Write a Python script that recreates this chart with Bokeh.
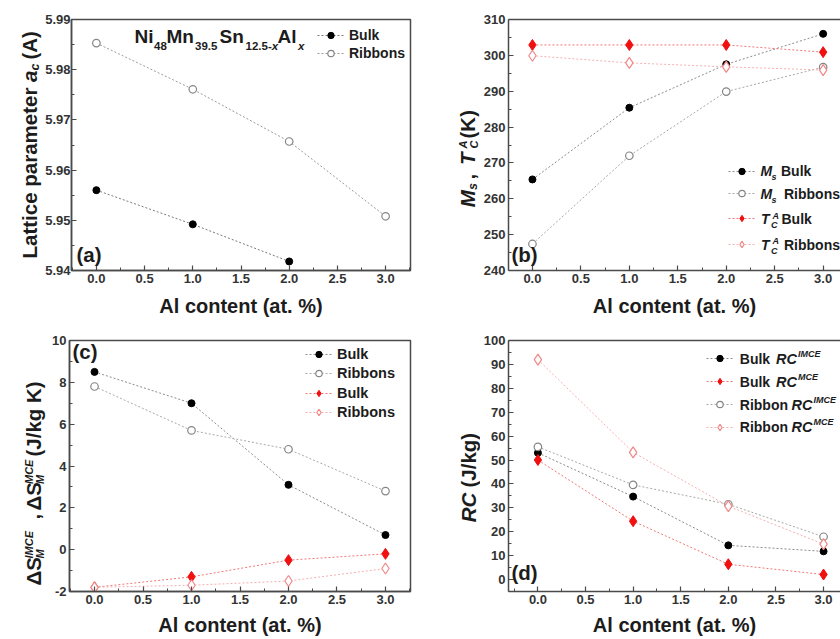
import math
from bokeh.plotting import figure
from bokeh.models import (FixedTicker, NumeralTickFormatter, Label, Legend,
                          LegendItem, LinearAxis, Range1d)
from bokeh.layouts import column, row
from bokeh.embed import file_html
from bokeh.resources import INLINE

# ---------------- data ----------------
al_content = [0.0, 1.0, 2.0, 3.0]
al_content_bulk_a = [0.0, 1.0, 2.0]

lattice_bulk = [5.9560, 5.9492, 5.9418]
lattice_ribbons = [5.9853, 5.9761, 5.9657, 5.9508]

ms_bulk = [265.4, 285.4, 297.5, 306.0]
ms_ribbons = [247.4, 272.0, 289.9, 296.7]
tc_bulk = [302.9, 302.9, 302.9, 300.9]
tc_ribbons = [299.9, 297.9, 296.8, 295.9]

ds_imce_bulk = [8.5, 7.0, 3.1, 0.7]
ds_imce_ribbons = [7.8, 5.7, 4.8, 2.8]
ds_mce_bulk = [-1.8, -1.3, -0.5, -0.2]
ds_mce_ribbons = [-1.8, -1.7, -1.5, -0.9]

rc_imce_bulk = [53.0, 34.7, 14.3, 11.8]
rc_mce_bulk = [50.0, 24.4, 6.4, 2.1]
rc_imce_ribbon = [55.5, 39.6, 31.5, 17.9]
rc_mce_ribbon = [92.0, 53.2, 30.7, 14.8]

x_ticks = [0.0, 0.5, 1.0, 1.5, 2.0, 2.5, 3.0]
a_ticks = [5.94, 5.95, 5.96, 5.97, 5.98, 5.99]
b_ticks = [240, 250, 260, 270, 280, 290, 300, 310]
c_ticks = [-2, 0, 2, 4, 6, 8, 10]
d_ticks = [0, 10, 20, 30, 40, 50, 60, 70, 80, 90, 100]

# ---------------- style ----------------
FONT = "Liberation Sans"
TXT = "#1c1c1c"
AX = "#4a4a4a"
BLACK_LINE = "#8c8c8c"
GRAY_LINE = "#a8a8a8"
RED = "#f01010"
RED_LINE = "#f07878"
PINK = "#f08888"
PINK_LINE = "#f6b0b0"
BASE_K = 0.36   # label anchor sits at the middle of the text box

# frame positions on the page (page px); frames in a row share top/bottom
PA = dict(left=69, bottom=270)
PB = dict(left=507, bottom=270)
PC = dict(left=69, bottom=591)
PD = dict(left=507, bottom=591)

WID = {' ': 278, '(': 333, ')': 333, ',': 278, '-': 333, '.': 278, '/': 278,
       '%': 889, 'A': 722, 'B': 722, 'C': 722, 'E': 667, 'I': 278, 'J': 556,
       'K': 722, 'L': 611, 'M': 833, 'N': 722, 'R': 722, 'S': 667, 'T': 611,
       'a': 556, 'b': 611, 'c': 556, 'e': 556, 'g': 611, 'i': 278, 'k': 556,
       'l': 278, 'm': 889, 'n': 611, 'o': 611, 'p': 611, 'r': 389, 's': 556,
       't': 333, 'u': 611, 'x': 556, '\u0394': 620}


def tw(s, size):
    return sum(WID.get(ch, 556) for ch in s) * size / 1000.0


def minor_between(ticks):
    step = ticks[1] - ticks[0]
    return [ticks[0] - step / 2.0] + [t + step / 2.0 for t in ticks]


def make_fig(w, h, xr, yr, borders, yt, yfmt, outline=True, label_standoff=9,
             ystandoff=3):
    left, right, top, bottom = borders
    p = figure(width=w, height=h, x_range=Range1d(*xr), y_range=Range1d(*yr),
               output_backend="svg", toolbar_location=None,
               min_border_left=left, min_border_right=right,
               min_border_top=top, min_border_bottom=bottom)
    p.xgrid.visible = False
    p.ygrid.visible = False
    p.background_fill_color = "white"
    p.border_fill_color = "white"
    p.xaxis.ticker = FixedTicker(ticks=x_ticks, minor_ticks=minor_between(x_ticks))
    p.xaxis.formatter = NumeralTickFormatter(format="0.0")
    p.yaxis.ticker = FixedTicker(ticks=yt, minor_ticks=minor_between(yt))
    p.yaxis.formatter = NumeralTickFormatter(format=yfmt)
    for ax in (p.xaxis[0], p.yaxis[0]):
        ax.axis_line_color = AX
        ax.axis_line_width = 1.5
        ax.major_tick_line_color = AX
        ax.major_tick_line_width = 1.2
        ax.minor_tick_line_color = AX
        ax.minor_tick_line_width = 1.0
        ax.major_tick_in = 5
        ax.major_tick_out = 0
        ax.minor_tick_in = 3
        ax.minor_tick_out = 0
        ax.major_label_text_font = FONT
        ax.major_label_text_font_style = "bold"
        ax.major_label_text_font_size = "13px"
        ax.major_label_text_color = "#333333"
    p.xaxis.major_label_standoff = 3
    p.yaxis.major_label_standoff = ystandoff
    xa = p.xaxis[0]
    xa.axis_label = "Al content (at. %)"
    xa.axis_label_text_font = FONT
    xa.axis_label_text_font_style = "bold"
    xa.axis_label_text_font_size = "20px"
    xa.axis_label_text_color = TXT
    xa.axis_label_standoff = label_standoff
    if outline:
        p.outline_line_color = AX
        p.outline_line_width = 1.5
        p.outline_line_alpha = 1
    else:
        p.outline_line_color = None
        top_ax = LinearAxis(ticker=FixedTicker(ticks=[]), axis_line_color=AX,
                            axis_line_width=1.5, major_tick_line_color=None,
                            minor_tick_line_color=None,
                            major_label_text_font_size="0px")
        p.add_layout(top_ax, "above")
    return p


def label_fig(w, h):
    f = figure(width=w, height=h, x_range=Range1d(0, 1), y_range=Range1d(0, 1),
               x_axis_type=None, y_axis_type=None, output_backend="svg",
               toolbar_location=None, min_border_left=0, min_border_right=0,
               min_border_top=0, min_border_bottom=0)
    f.outline_line_color = None
    f.xgrid.visible = False
    f.ygrid.visible = False
    f.border_fill_color = "white"
    f.background_fill_color = "white"
    return f


def add_text(p, P, text, px, py, size, style="bold", rotated=False,
             align="left", color=TXT):
    # (px, py): start of the text on its baseline, in page pixels
    if rotated:
        px = px - BASE_K * size
        angle = math.pi / 2
    else:
        py = py - BASE_K * size
        angle = 0.0
    p.add_layout(Label(x=px - P['left'], y=P['bottom'] - py,
                       x_units="screen", y_units="screen", text=text,
                       text_font=FONT, text_font_size=f"{size}px",
                       text_font_style=style, angle=angle,
                       text_align=align, text_baseline="alphabetic",
                       text_color=color))


def vtext(p, P, xbase, segs):
    # segs: (text, size, style, shift_right, y_start_page)
    for text, size, style, shift, ystart in segs:
        add_text(p, P, text, xbase + shift, ystart, size, style, rotated=True)


def legend_row(p, P, renderers, label, gx0, gx1, cy, fs=14):
    gh = 16
    lg = Legend(items=[LegendItem(label=label, renderers=renderers)],
                location=(gx0 - P['left'], P['bottom'] - cy - gh / 2.0),
                orientation="vertical", padding=0, margin=0, spacing=0,
                glyph_width=int(round(gx1 - gx0)), glyph_height=gh,
                label_height=gh, label_width=5, label_standoff=5,
                border_line_color=None, background_fill_alpha=0,
                label_text_font=FONT, label_text_font_style="bold",
                label_text_font_size=f"{fs}px", label_text_color=TXT,
                label_text_baseline="middle")
    p.add_layout(lg)


def series(p, xs, ys, kind, line_color):
    ln = p.line(xs, ys, line_color=line_color, line_width=1.0, line_dash="2 2")
    if kind == "bulk":
        sc = p.scatter(xs, ys, marker="circle", size=7, fill_color="black",
                       line_color="black")
    elif kind == "ribbon":
        sc = p.scatter(xs, ys, marker="circle", size=7.5, fill_color="white",
                       line_color="#858585", line_width=1.2)
    elif kind == "redbulk":
        sc = p.scatter(xs, ys, marker="diamond", size=11, fill_color=RED,
                       line_color=RED, line_width=1.0)
    else:
        sc = p.scatter(xs, ys, marker="diamond", size=11, fill_color="white",
                       line_color=PINK, line_width=1.2)
    return [ln, sc]


# ---------------- panel (a) ----------------
la = label_fig(42, 320)
LA = dict(left=0, bottom=270)
pa = make_fig(378, 320, (-0.258, 3.258), (5.94, 5.99), (27, 10, 19, 50),
              a_ticks, "0.00", ystandoff=1)
ra_b = series(pa, al_content_bulk_a, lattice_bulk, "bulk", "#7a7a7a")
ra_r = series(pa, al_content, lattice_ribbons, "ribbon", "#9a9a9a")
legend_row(pa, PA, ra_b, "Bulk", 315, 342, 35)
legend_row(pa, PA, ra_r, "Ribbons", 315, 342, 52.7)
for text, size, style, x, y in [
        ("Ni", 19, "bold", 132, 43.3), ("48", 11.5, "bold", 151.5, 50),
        ("Mn", 19, "bold", 164, 43.3), ("39.5", 11.5, "bold", 192.5, 50),
        ("Sn", 19, "bold", 217, 43.3), ("12.5-", 11.5, "bold", 243, 50),
        ("x", 11.5, "bold italic", 243 + tw("12.5-", 11.5), 50),
        ("Al", 19, "bold", 275, 43.3), ("x", 11.5, "bold italic", 295.5, 50)]:
    add_text(pa, PA, text, x, y, size, style)
add_text(pa, PA, "(a)", 74, 261, 20.5)
ya = 258.0
y_a_sub = ya - tw("Lattice parameter a", 20.5)
vtext(la, LA, 36.5, [
    ("Lattice parameter", 20.5, "bold", 0, ya),
    ("a", 20.5, "bold italic", 0, ya - tw("Lattice parameter ", 20.5)),
    ("c", 12.5, "bold italic", 2, y_a_sub),
    ("(A)", 20.5, "bold", 0, y_a_sub - tw("c", 12.5) - 4),
])

# ---------------- panel (b) ----------------
lb = label_fig(60, 320)
LB = dict(left=420, bottom=270)
pb = make_fig(360, 320, (-0.247, 3.179), (240, 310), (27, 0, 19, 50),
              b_ticks, "0", outline=False)
rb_1 = series(pb, al_content, ms_bulk, "bulk", BLACK_LINE)
rb_2 = series(pb, al_content, ms_ribbons, "ribbon", GRAY_LINE)
rb_3 = series(pb, al_content, tc_bulk, "redbulk", RED_LINE)
rb_4 = series(pb, al_content, tc_ribbons, "pink", PINK_LINE)
for rr, cy in [(rb_1, 170.7), (rb_2, 193.3), (rb_3, 218.3), (rb_4, 244)]:
    legend_row(pb, PB, rr, " ", 727, 754, cy, fs=6)
for cy, name, nx in [(170.7, "Bulk", 779.5), (193.3, "Ribbons", 782.5)]:
    add_text(pb, PB, "M", 759, cy + 5.3, 14, "bold italic")
    add_text(pb, PB, "s", 770, cy + 9, 9, "bold italic")
    add_text(pb, PB, name, nx, cy + 5.3, 14)
for cy, name, nx in [(218.3, "Bulk", 780), (244, "Ribbons", 782.5)]:
    add_text(pb, PB, "T", 759.5, cy + 5.3, 14, "bold italic")
    add_text(pb, PB, "A", 771, cy, 9, "bold italic")
    add_text(pb, PB, "C", 769.5, cy + 9.5, 9, "bold italic")
    add_text(pb, PB, name, nx, cy + 5.3, 14)
add_text(pb, PB, "(b)", 510, 261, 20.5)
vtext(lb, LB, 474.5, [
    ("M", 20.5, "bold italic", 0, 206.7),
    ("s", 12.5, "bold italic", 2.5, 189.5),
    (",", 20.5, "bold", 0, 179),
    ("T", 20.5, "bold italic", 0, 164.5),
    ("A", 11, "bold italic", -8, 148),
    ("C", 11, "bold italic", 2.5, 148),
    ("(K)", 20.5, "bold", 0, 138),
])

# ---------------- panel (c) ----------------
lc = label_fig(46, 319)
LC = dict(left=0, bottom=591)
pc = make_fig(374, 319, (-0.258, 3.258), (-2, 10), (23, 10, 20, 48),
              c_ticks, "0", label_standoff=7)
rc_1 = series(pc, al_content, ds_imce_bulk, "bulk", BLACK_LINE)
rc_2 = series(pc, al_content, ds_imce_ribbons, "ribbon", GRAY_LINE)
rc_3 = series(pc, al_content, ds_mce_bulk, "redbulk", RED_LINE)
rc_4 = series(pc, al_content, ds_mce_ribbons, "pink", PINK_LINE)
for rr, name, cy in [(rc_1, "Bulk", 354.3), (rc_2, "Ribbons", 373.3),
                     (rc_3, "Bulk", 392.7), (rc_4, "Ribbons", 412.3)]:
    legend_row(pc, PC, rr, name, 305, 332, cy, fs=14.5)
add_text(pc, PC, "(c)", 72, 358, 20.5)
vtext(lc, LC, 40, [
    ("\u0394S", 20.5, "bold", 0, 585),
    ("IMCE", 11, "bold italic", -8, 558),
    ("M", 11, "bold italic", 3, 558),
    (",", 20.5, "bold", 0, 519),
    ("\u0394S", 20.5, "bold", 0, 510),
    ("MCE", 11, "bold italic", -8, 483.5),
    ("M", 11, "bold italic", 3, 483.5),
    ("(J/kg K)", 20.5, "bold", 0, 456),
])

# ---------------- panel (d) ----------------
ld = label_fig(60, 319)
LD = dict(left=420, bottom=591)
pd_ = make_fig(360, 319, (-0.309, 3.178), (-5, 100), (27, 0, 20, 48),
               d_ticks, "0", outline=False, label_standoff=7)
rd_1 = series(pd_, al_content, rc_imce_bulk, "bulk", BLACK_LINE)
rd_2 = series(pd_, al_content, rc_mce_bulk, "redbulk", RED_LINE)
rd_3 = series(pd_, al_content, rc_imce_ribbon, "ribbon", GRAY_LINE)
rd_4 = series(pd_, al_content, rc_mce_ribbon, "pink", PINK_LINE)
for rr, cy in [(rd_1, 358.3), (rd_2, 381.3), (rd_3, 404), (rd_4, 426.5)]:
    legend_row(pd_, PD, rr, " ", 705, 732, cy, fs=6)
for cy, name, rcx, sup in [(358.3, "Bulk", 774.5, "IMCE"), (381.3, "Bulk", 774.5, "MCE"),
                           (404, "Ribbon", 790, "IMCE"), (426.5, "Ribbon", 790, "MCE")]:
    add_text(pd_, PD, name, 738.3, cy + 5.3, 14)
    add_text(pd_, PD, "RC", rcx, cy + 5.3, 14.5, "bold italic")
    add_text(pd_, PD, sup, rcx + tw("RC", 14.5) + 1, cy - 1.5, 9, "bold italic")
add_text(pd_, PD, "(d)", 510, 579.5, 20.5)
vtext(ld, LD, 475, [
    ("RC", 20.5, "bold italic", 0, 521.7),
    ("(J/kg)", 20.5, "bold", 0, 487),
])

layout = column(row(la, pa, lb, pb, spacing=0),
                row(lc, pc, ld, pd_, spacing=0), spacing=0)
open("out.html", "w").write(file_html(layout, INLINE))
